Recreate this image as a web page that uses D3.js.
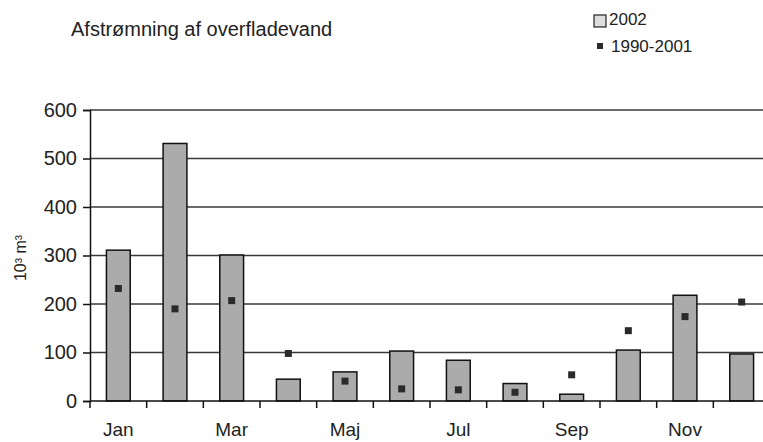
<!DOCTYPE html>
<html><head><meta charset="utf-8">
<script src="https://cdn.jsdelivr.net/npm/d3@7"></script>
<style>body{margin:0;background:#fff}svg{display:block;font-family:Arial,"Liberation Sans",sans-serif}</style>
</head><body>
<script>
const months = ["Jan","Feb","Mar","Apr","Maj","Jun","Jul","Aug","Sep","Okt","Nov","Dec"];
const labelMonths = ["Jan","Mar","Maj","Jul","Sep","Nov"];
const values2002 = [311,531,301,45,60,103,84,36,14,105,218,97];
const values19902001 = [232,190,207,98,41,25,23,18,54,145,174,204];
const yTicks = [0,100,200,300,400,500,600];

const W=763,H=442;
const svg=d3.select("body").append("svg").attr("width",W).attr("height",H);
const x=d3.scaleBand().domain(months).range([90,770]).paddingInner(0.58).paddingOuter(0.29);
const xb=d3.scaleBand().domain(months).range([90,770]);
const y=d3.scaleLinear().domain([0,600]).range([401,110]);

// gridlines
svg.append("g").selectAll("line").data(yTicks.filter(d=>d>0)).join("line")
 .attr("x1",90).attr("x2",W).attr("y1",d=>y(d)).attr("y2",d=>y(d))
 .attr("stroke","#3a3a3a").attr("stroke-width",1.6);

// bars
svg.append("g").selectAll("rect").data(months).join("rect")
 .attr("x",d=>x(d)).attr("width",x.bandwidth())
 .attr("y",(d,i)=>y(values2002[i])).attr("height",(d,i)=>y(0)-y(values2002[i]))
 .attr("fill","#ababab").attr("stroke","#111").attr("stroke-width",1.5);

// markers
svg.append("g").selectAll("rect").data(months).join("rect")
 .attr("x",d=>x(d)+x.bandwidth()/2-3.5).attr("y",(d,i)=>y(values19902001[i])-3.5)
 .attr("width",7).attr("height",7).attr("fill","#2a2a2a");

// y axis
const ya=svg.append("g").attr("transform","translate(90,0)")
 .call(d3.axisLeft(y).tickValues(yTicks).tickSize(7).tickPadding(6));
ya.select(".domain").attr("stroke","#111").attr("stroke-width",1.5);
ya.selectAll(".tick line").attr("stroke","#111").attr("stroke-width",1.5);
ya.selectAll("text").attr("font-size",20).attr("fill","#222");

// x axis
const xa=svg.append("g").attr("transform","translate(0,401)");
xa.append("line").attr("x1",90).attr("x2",W).attr("stroke","#111").attr("stroke-width",1.6);
xa.selectAll("line.t").data(months).join("line").attr("class","t")
 .attr("x1",d=>xb(d)).attr("x2",d=>xb(d)).attr("y1",0).attr("y2",7)
 .attr("stroke","#111").attr("stroke-width",1.5);
xa.selectAll("text").data(labelMonths).join("text")
 .attr("x",d=>xb(d)+xb.bandwidth()/2).attr("y",35).attr("text-anchor","middle")
 .attr("font-size",19).attr("fill","#222").text(d=>d);

// y label
svg.append("text").attr("transform","translate(26,258) rotate(-90)").attr("text-anchor","middle")
 .attr("font-size",16).attr("fill","#222").text("10³ m³");

// title
svg.append("text").attr("x",71).attr("y",36).attr("font-size",20).attr("fill","#222")
 .text("Afstrømning af overfladevand");

// legend
svg.append("rect").attr("x",594).attr("y",15).attr("width",12).attr("height",12)
 .attr("fill","#ddd").attr("stroke","#222").attr("stroke-width",1.2);
svg.append("text").attr("x",609).attr("y",25).attr("font-size",17).attr("fill","#222").text("2002");
svg.append("rect").attr("x",597).attr("y",43).attr("width",6).attr("height",6).attr("fill","#2a2a2a");
svg.append("text").attr("x",611).attr("y",52).attr("font-size",17).attr("fill","#222").text("1990-2001");
</script>
</body></html>
